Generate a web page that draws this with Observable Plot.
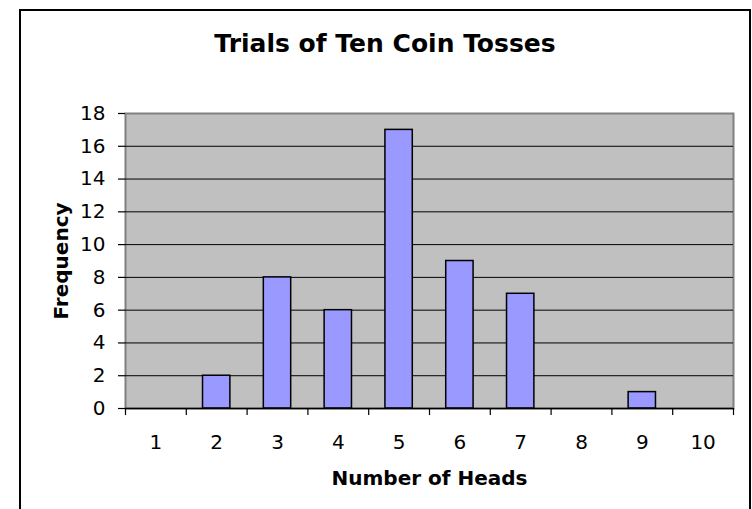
<!DOCTYPE html>
<html>
<head>
<meta charset="utf-8">
<script src="https://cdn.jsdelivr.net/npm/d3@7"></script>
<script src="https://cdn.jsdelivr.net/npm/@observablehq/plot@0.6"></script>
<style>
  html, body { margin: 0; padding: 0; background: #fff; overflow: hidden; }
  #wrap { position: relative; width: 752px; height: 509px; overflow: hidden; }
  #border { position: absolute; left: 19px; top: 9px; width: 732px; height: 540px; box-sizing: border-box; border: 2px solid #000; }
  #chart { position: absolute; left: 0; top: 0; }
  #title { position: absolute; left: 19px; width: 732px; top: 31px; text-align: center;
           font-family: "DejaVu Sans", sans-serif; font-weight: bold; font-size: 25px; line-height: 25px; color: #000; }
</style>
</head>
<body>
<div id="wrap">
  <div id="border"></div>
  <div id="chart"></div>
  <div id="title">Trials of Ten Coin Tosses</div>
</div>
<script>
const heads = ["1", "2", "3", "4", "5", "6", "7", "8", "9", "10"];
const frequency = [0, 2, 8, 6, 17, 9, 7, 0, 1, 0];
const yTicks = [0, 2, 4, 6, 8, 10, 12, 14, 16, 18];
const gridValues = [2, 4, 6, 8, 10, 12, 14, 16];
const xTitle = "Number of Heads";
const yTitle = "Frequency";

const data = heads.map((h, i) => ({heads: h, freq: frequency[i]}));

const W = 752, H = 509, mL = 125, mR = 19, mT = 113, mB = 101;
const pInner = 0.55, pOuter = 0.275;
const step = (W - mL - mR) / (heads.length - pInner + 2 * pOuter);

const plot = Plot.plot({
  width: W,
  height: H,
  marginLeft: mL,
  marginRight: mR,
  marginTop: mT,
  marginBottom: mB,
  style: {fontFamily: "DejaVu Sans, sans-serif", background: "transparent", color: "#000"},
  x: {type: "band", domain: heads, paddingInner: pInner, paddingOuter: pOuter, round: false, label: null},
  y: {domain: [0, 18], label: null},
  marks: [
    Plot.frame({fill: "#C0C0C0", stroke: "#808080", strokeWidth: 2}),
    Plot.ruleY(gridValues, {stroke: "#000", strokeWidth: 1}),
    Plot.barY(data, {x: "heads", y: "freq", fill: "#9999FF", stroke: "#000", strokeWidth: 1.5}),
    Plot.ruleY([0], {stroke: "#000", strokeWidth: 1.5}),
    Plot.axisY({ticks: yTicks, tickSize: 7, tickPadding: 13, fontSize: 20, label: null, line: true, stroke: "#000", strokeWidth: 1.2}),
    Plot.axisX({tickSize: 0, tickPadding: 26, fontSize: 20, label: null}),
    Plot.axisX({tickSize: 7, text: null, label: null, dx: -step / 2, stroke: "#000", strokeWidth: 1.2}),
    Plot.axisX({ticks: [heads[heads.length - 1]], tickSize: 7, text: null, label: null, dx: step / 2, stroke: "#000", strokeWidth: 1.2}),
    Plot.text([yTitle], {frameAnchor: "left", textAnchor: "middle", rotate: -90, dx: -58, lineAnchor: "bottom", text: d => d, fontSize: 20, fontWeight: "bold", fill: "#000"}),
    Plot.text([xTitle], {frameAnchor: "bottom", textAnchor: "middle", dy: 76, lineAnchor: "bottom", text: d => d, fontSize: 20, fontWeight: "bold", fill: "#000"})
  ]
});
document.getElementById("chart").appendChild(plot);
</script>
</body>
</html>
